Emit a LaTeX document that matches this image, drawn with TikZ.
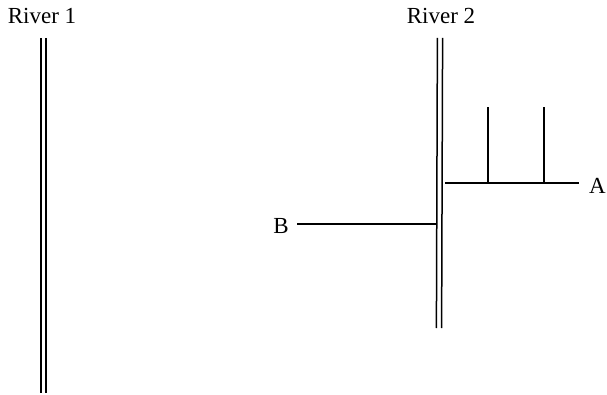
\documentclass[tikz,border=0pt]{standalone}
\usepackage{fontspec}
\setmainfont{Liberation Serif}
\begin{document}
\begin{tikzpicture}[x=1pt,y=-1pt,
  riv/.style={line width=1.5pt},
  stream/.style={line width=1.5pt},
  lbl/.style={inner sep=0pt,font=\fontsize{23}{26}\selectfont}]
\useasboundingbox (0,0) rectangle (607,395);
% river 1: double line
\coordinate (r1t) at (43.5,38);
\coordinate (r1b) at (43.5,393);
\draw[riv] ([xshift=-2.6pt]r1t) -- ([xshift=-2.6pt]r1b);
\draw[riv] ([xshift=2.6pt]r1t) -- ([xshift=2.6pt]r1b);
\node[lbl] (l1) at (42,16) {River 1};
% river 2: double line
\coordinate (r2t) at (440,38);
\coordinate (r2b) at (439,328);
\draw[riv] ([xshift=-2.6pt]r2t) -- ([xshift=-2.6pt]r2b);
\draw[riv] ([xshift=2.6pt]r2t) -- ([xshift=2.6pt]r2b);
\node[lbl] (l2) at (441,16) {River 2};
% tributary A with two branches
\node[lbl,anchor=east] (A) at (606,186) {A};
\coordinate (aS) at (445,183);
\coordinate (aE) at (579,183);
\coordinate (b1) at (488,183);
\coordinate (b1t) at (488,107);
\coordinate (b2) at (544,183);
\coordinate (b2t) at (544,107);
\draw[stream] (aS) -- (aE);
\draw[stream] (b1) -- (b1t);
\draw[stream] (b2) -- (b2t);
% tributary B
\node[lbl,anchor=east] (B) at (289,226) {B};
\coordinate (bS) at (297,224);
\coordinate (bE) at (437,224);
\draw[stream] (bS) -- (bE);
\end{tikzpicture}
\end{document}
